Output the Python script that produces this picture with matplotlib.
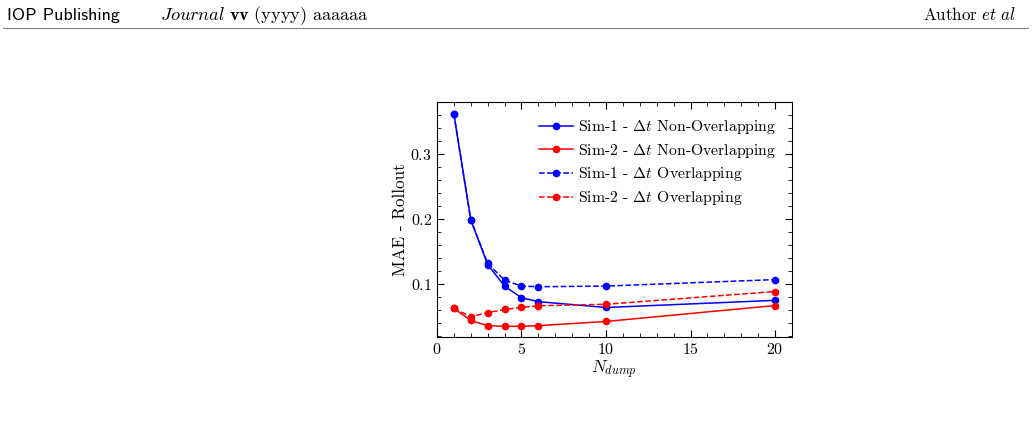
import numpy as np
import matplotlib
matplotlib.use('Agg')
import matplotlib.pyplot as plt
from matplotlib.ticker import MultipleLocator

plt.rcParams['font.family'] = 'cmr10'
plt.rcParams['mathtext.fontset'] = 'cm'
plt.rcParams['axes.unicode_minus'] = False
plt.rcParams['axes.formatter.use_mathtext'] = True

# 数据
n_dump = [1, 2, 3, 4, 5, 6, 10, 20]
sim1_non = [0.362, 0.199, 0.130, 0.097, 0.079, 0.073, 0.064, 0.075]
sim2_non = [0.0625, 0.044, 0.036, 0.035, 0.035, 0.036, 0.0425, 0.067]
sim1_ovl = [0.362, 0.199, 0.132, 0.106, 0.097, 0.096, 0.097, 0.107]
sim2_ovl = [0.0625, 0.050, 0.056, 0.061, 0.064, 0.0667, 0.069, 0.0886]

fig = plt.figure(figsize=(10.34, 4.23), dpi=100)

# 页眉
fig.text(0.007, 0.953, 'IOP Publishing', family='cmss10', fontsize=13, va='baseline')
fig.text(0.155, 0.953, r'$Journal\ \mathbf{vv}\ \mathrm{(yyyy)\ aaaaaa}$', fontsize=13.2, va='baseline')
fig.text(0.983, 0.953, r'Author $et\ al$', fontsize=12.2, va='baseline', ha='right')
fig.add_artist(plt.Line2D([0.003, 0.994], [0.934, 0.934], color='gray', lw=0.8))

ax = fig.add_axes([0.4226, 0.204, 0.3433, 0.554])
ax.plot(n_dump, sim1_non, '-o', color='blue', lw=1.1, ms=4.5, label=r'Sim-1 - $\Delta t$ Non-Overlapping')
ax.plot(n_dump, sim2_non, '-o', color='red', lw=1.1, ms=4.5, label=r'Sim-2 - $\Delta t$ Non-Overlapping')
ax.plot(n_dump, sim1_ovl, '--o', color='blue', lw=1.1, ms=4.5, label=r'Sim-1 - $\Delta t$ Overlapping')
ax.plot(n_dump, sim2_ovl, '--o', color='red', lw=1.1, ms=4.5, label=r'Sim-2 - $\Delta t$ Overlapping')

ax.set_xlim(0, 21)
ax.set_ylim(0.019, 0.38)
ax.xaxis.set_major_locator(MultipleLocator(5))
ax.xaxis.set_minor_locator(MultipleLocator(1))
ax.yaxis.set_major_locator(MultipleLocator(0.1))
ax.yaxis.set_minor_locator(MultipleLocator(0.02))
ax.tick_params(which='both', direction='in', top=True, right=True, labelsize=11.5)
ax.tick_params(which='major', length=5)
ax.tick_params(which='minor', length=3)

ax.set_xlabel(r'$N_{dump}$', fontsize=12.5, labelpad=2)
ax.set_ylabel('MAE - Rollout', fontsize=12.3, labelpad=2)
ax.legend(loc='upper right', frameon=False, fontsize=11.3, labelspacing=0.36, handlelength=2.2,
          handletextpad=0.3, borderaxespad=0.6)

fig.savefig('out.png', dpi=100)
